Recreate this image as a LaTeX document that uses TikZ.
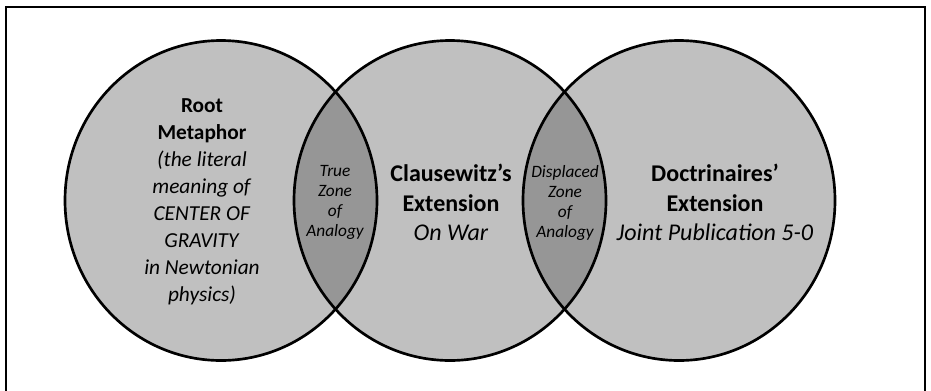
\documentclass[tikz,border=0pt]{standalone}
\usepackage{fontspec}
\setmainfont{Carlito}
\definecolor{circlegray}{RGB}{192,192,192}
\definecolor{zonegray}{RGB}{150,150,150}

\begin{document}
\begin{tikzpicture}[x=0.75pt,y=-0.75pt,
  circ/.style={x radius=117pt,y radius=120pt},
  roottext/.style={font=\fontsize{16}{20.25}\selectfont,align=center},
  exttext/.style={font=\fontsize{18}{22}\selectfont,align=center},
  zonetext/.style={font=\fontsize{13}{15}\selectfont\itshape,align=center}]
\useasboundingbox (0,0) rectangle (931,390);
\draw[line width=1.5pt] (6,392) -- (6,7) -- (925,7) -- (925,392); % edit here for the frame
\foreach \x in {221,450,679} % edit here for the circles
\fill[circlegray] (\x,200.5) ellipse [circ];
\begin{scope} % true zone
\clip (221,200.5) ellipse [circ];
\fill[zonegray] (450,200.5) ellipse [circ];
\end{scope}
\begin{scope} % displaced zone
\clip (450,200.5) ellipse [circ];
\fill[zonegray] (679,200.5) ellipse [circ];
\end{scope}
\foreach \x in {221,450,679} % edit here for the outlines
\draw[line width=2pt] (\x,200.5) ellipse [circ];
\node[roottext] (root) at (202,202) {\textbf{Root}\\\textbf{Metaphor}\\\textit{(the literal}\\\textit{meaning of}\\\textit{CENTER OF}\\\textit{GRAVITY}\\\textit{in Newtonian}\\\textit{physics)}};
\node[zonetext] (truezone) at (335,202.5) {True\\Zone\\of\\Analogy};
\node[exttext] (clausewitz) at (451,202.5) {\textbf{Clausewitz's}\\\textbf{Extension}\\\textit{On War}};
\node[zonetext] (displaced) at (565,202.5) {Displaced\\Zone\\of\\Analogy};
\node[exttext] (doctrine) at (715,202.5) {\textbf{Doctrinaires'}\\\textbf{Extension}\\\textit{Joint Publication 5-0}};
\end{tikzpicture}
\end{document}
